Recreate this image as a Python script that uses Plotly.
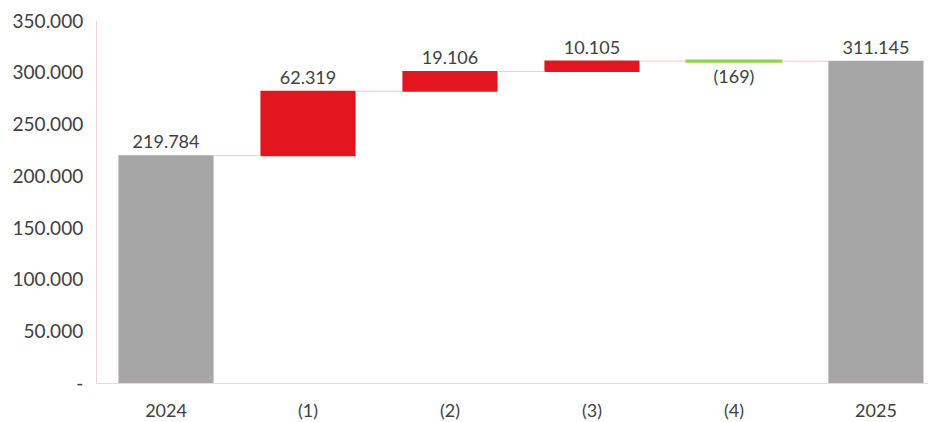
import plotly.graph_objects as go

categories = ["2024", "(1)", "(2)", "(3)", "(4)", "2025"]
values = [219784, 62319, 19106, 10105, -169, 311145]
measures = ["absolute", "relative", "relative", "relative", "relative", "total"]
value_labels = ["219.784", "62.319", "19.106", "10.105", "(169)", "311.145"]
y_tick_values = [0, 50000, 100000, 150000, 200000, 250000, 300000, 350000]
y_tick_labels = ["-", "50.000", "100.000", "150.000", "200.000", "250.000", "300.000", "350.000"]

FONT = "Lato"
TXT = "#404040"

fig = go.Figure(go.Waterfall(
    x=categories,
    y=values,
    measure=measures,
    text=value_labels,
    textposition="outside",
    textfont=dict(family=FONT, size=18, color=TXT),
    cliponaxis=False,
    width=0.67,
    totals=dict(marker=dict(color="#A6A6A6", line=dict(width=0))),
    increasing=dict(marker=dict(color="#E3161F", line=dict(width=0))),
    decreasing=dict(marker=dict(color="#92D050", line=dict(color="#92D050", width=2))),
    connector=dict(mode="between", line=dict(color="#F4C9C9", width=1)),
))

fig.update_layout(
    width=928, height=414,
    margin=dict(l=89, r=0, t=13, b=39),
    paper_bgcolor="white", plot_bgcolor="white",
    showlegend=False,
    font=dict(family=FONT, size=18, color=TXT),
    xaxis=dict(
        range=[-0.486, 5.423], showgrid=False, zeroline=False,
        showline=True, linecolor="#F2D6D6", linewidth=1,
        ticks="", ticklabelstandoff=11,
        tickfont=dict(family=FONT, size=18, color=TXT),
    ),
    yaxis=dict(
        range=[0, 350000], showgrid=False, zeroline=False,
        showline=True, linecolor="#F2D6D6", linewidth=1,
        tickvals=y_tick_values, ticktext=y_tick_labels,
        ticks="", ticklabelstandoff=9,
        tickfont=dict(family=FONT, size=19, color=TXT),
    ),
)

fig.write_html("out.html")
